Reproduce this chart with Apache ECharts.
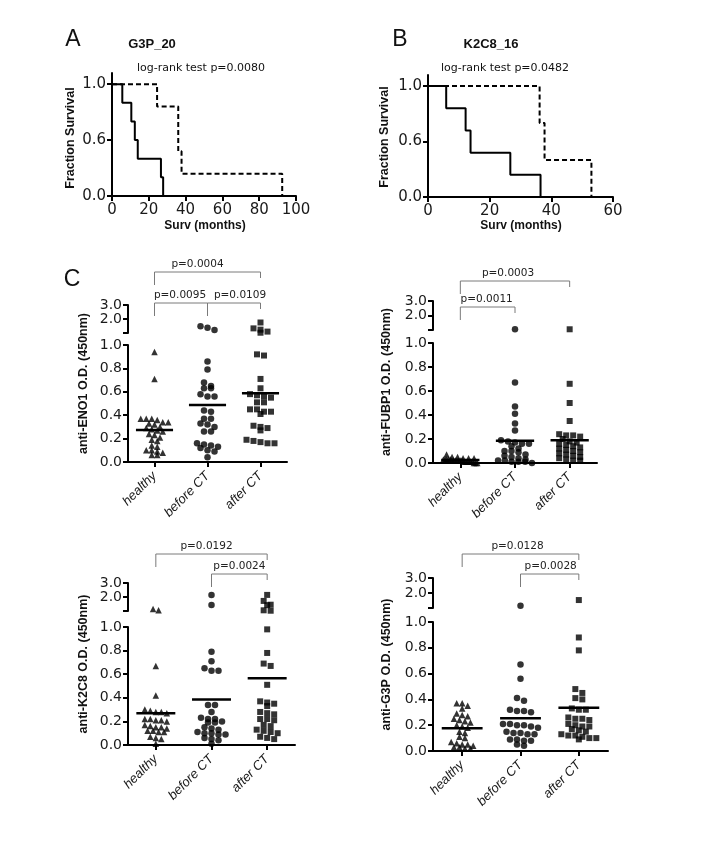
<!DOCTYPE html>
<html><head><meta charset="utf-8">
<script src="https://cdn.jsdelivr.net/npm/echarts@6/dist/echarts.min.js"></script>
<style>html,body{margin:0;padding:0;background:#fff}#c{width:708px;height:843px}</style>
</head><body><div id="c"></div>
<script>
// ---------------- DATA ----------------
const categories = ['healthy', 'before CT', 'after CT'];

// Kaplan-Meier (time in months, fraction surviving)
const kmA_solid_t = [0, 5.6, 10.5, 12.4, 14, 26.6, 27.8];
const kmA_solid_s = [1, 0.833, 0.667, 0.5, 0.333, 0.167, 0];
const kmA_dash_t = [0, 24.5, 36, 37.8, 92.5];
const kmA_dash_s = [1, 0.8, 0.4, 0.2, 0];
const kmB_solid_t = [0, 5.9, 12.2, 13.8, 26.7, 36.5];
const kmB_solid_s = [1, 0.8, 0.6, 0.4, 0.2, 0];
const kmB_dash_t = [0, 36.2, 37.8, 53];
const kmB_dash_s = [1, 0.667, 0.333, 0];
const kmYTickValues = [0, 0.5, 1];
const kmYTickLabels = ['0.0', '0.6', '1.0'];
const kmTitles = ['G3P_20', 'K2C8_16'];
const kmTests = ['log-rank test p=0.0080', 'log-rank test p=0.0482'];

// anti-ENO1
const eno1_healthy = [0.94, 0.71, 0.37, 0.37, 0.37, 0.36, 0.34, 0.34, 0.33, 0.32, 0.30, 0.29, 0.28, 0.27, 0.26, 0.24, 0.23, 0.21, 0.19, 0.18, 0.14, 0.13, 0.10, 0.10, 0.09, 0.08, 0.06, 0.06];
const eno1_before = [1.49, 1.38, 1.21, 0.86, 0.79, 0.68, 0.65, 0.63, 0.63, 0.58, 0.56, 0.56, 0.44, 0.43, 0.37, 0.37, 0.33, 0.32, 0.30, 0.26, 0.26, 0.16, 0.15, 0.14, 0.13, 0.12, 0.10, 0.09, 0.04];
const eno1_after = [1.75, 1.33, 1.24, 1.10, 1.02, 0.92, 0.91, 0.71, 0.63, 0.58, 0.57, 0.56, 0.55, 0.51, 0.51, 0.45, 0.45, 0.43, 0.43, 0.41, 0.31, 0.30, 0.29, 0.27, 0.19, 0.18, 0.17, 0.16, 0.16];
const eno1_means = [0.274, 0.487, 0.587];
const eno1_brackets = [[0, 2, 'p=0.0004'], [0, 1, 'p=0.0095'], [1, 2, 'p=0.0109']];

// anti-FUBP1
const fubp1_healthy = [0.07, 0.05, 0.05, 0.04, 0.04, 0.04, 0.03, 0.03, 0.03, 0.03, 0.03, 0.02, 0.02, 0.02, 0.02, 0.02, 0.02, 0.02, 0.01, 0.01, 0.01, 0.01, 0.01, 0.01, 0.0, 0.0, 0.0];
const fubp1_before = [1.05, 0.67, 0.47, 0.41, 0.33, 0.27, 0.19, 0.18, 0.17, 0.16, 0.16, 0.14, 0.12, 0.10, 0.10, 0.09, 0.07, 0.06, 0.05, 0.04, 0.03, 0.02, 0.02, 0.01, 0.01, 0.01, 0.0];
const fubp1_after = [1.05, 0.66, 0.50, 0.35, 0.24, 0.23, 0.23, 0.22, 0.20, 0.18, 0.17, 0.16, 0.15, 0.14, 0.13, 0.12, 0.11, 0.10, 0.09, 0.08, 0.07, 0.06, 0.05, 0.04, 0.03, 0.02, 0.02];
const fubp1_means = [0.025, 0.186, 0.19];
const fubp1_brackets = [[0, 2, 'p=0.0003'], [0, 1, 'p=0.0011']];

// anti-K2C8
const k2c8_healthy = [1.15, 1.05, 0.67, 0.42, 0.30, 0.29, 0.28, 0.28, 0.27, 0.22, 0.22, 0.21, 0.21, 0.20, 0.17, 0.16, 0.15, 0.15, 0.14, 0.12, 0.12, 0.11, 0.11, 0.07, 0.06, 0.05, 0.01];
const k2c8_before = [2.15, 1.43, 0.79, 0.71, 0.65, 0.63, 0.63, 0.34, 0.34, 0.28, 0.23, 0.22, 0.22, 0.20, 0.19, 0.19, 0.15, 0.14, 0.13, 0.11, 0.10, 0.10, 0.09, 0.09, 0.06, 0.05, 0.04, 0.01];
const k2c8_after = [2.15, 1.72, 1.45, 1.42, 1.05, 1.02, 0.98, 0.78, 0.69, 0.67, 0.51, 0.37, 0.36, 0.35, 0.33, 0.28, 0.27, 0.26, 0.22, 0.22, 0.21, 0.17, 0.16, 0.13, 0.12, 0.11, 0.10, 0.07, 0.06, 0.05];
const k2c8_means = [0.27, 0.385, 0.565];
const k2c8_brackets = [[0, 2, 'p=0.0192'], [1, 2, 'p=0.0024']];

// anti-G3P
const g3p_healthy = [0.37, 0.37, 0.35, 0.33, 0.29, 0.28, 0.27, 0.25, 0.24, 0.23, 0.22, 0.20, 0.19, 0.18, 0.15, 0.14, 0.11, 0.10, 0.07, 0.06, 0.05, 0.05, 0.04, 0.03, 0.03, 0.02, 0.02];
const g3p_before = [1.15, 0.67, 0.56, 0.41, 0.39, 0.32, 0.31, 0.31, 0.30, 0.21, 0.21, 0.20, 0.20, 0.19, 0.18, 0.15, 0.14, 0.14, 0.13, 0.13, 0.09, 0.09, 0.08, 0.08, 0.05, 0.04];
const g3p_after = [1.53, 0.88, 0.78, 0.48, 0.45, 0.41, 0.40, 0.33, 0.32, 0.32, 0.26, 0.25, 0.25, 0.24, 0.21, 0.20, 0.19, 0.19, 0.17, 0.16, 0.15, 0.13, 0.12, 0.12, 0.11, 0.10, 0.10, 0.09];
const g3p_means = [0.176, 0.253, 0.336];
const g3p_brackets = [[0, 2, 'p=0.0128'], [1, 2, 'p=0.0028']];

// ---------------- LAYOUT ----------------
const TICKF = 'DejaVu Sans';
const SANS = 'Liberation Sans';
const panels = [
  { name: 'anti-ENO1 O.D. (450nm)', groups: [eno1_healthy, eno1_before, eno1_after], means: eno1_means, brackets: eno1_brackets,
    up: { left: 128, top: 305, width: 159, height: 28 }, lo: { left: 128, top: 345, width: 159, height: 117 },
    labelX: 84, bracketY: [272, 303, 303], textDx: [-10, -1, 6] },
  { name: 'anti-FUBP1 O.D. (450nm)', groups: [fubp1_healthy, fubp1_before, fubp1_after], means: fubp1_means, brackets: fubp1_brackets,
    up: { left: 433, top: 301, width: 164, height: 29 }, lo: { left: 433, top: 343, width: 164, height: 120 },
    labelX: 387, bracketY: [281, 307], textDx: [-7, -1] },
  { name: 'anti-K2C8 O.D. (450nm)', groups: [k2c8_healthy, k2c8_before, k2c8_after], means: k2c8_means, brackets: k2c8_brackets,
    up: { left: 128, top: 583, width: 167, height: 28 }, lo: { left: 128, top: 627, width: 167, height: 118 },
    labelX: 84, bracketY: [554, 574], textDx: [-5, 0] },
  { name: 'anti-G3P O.D. (450nm)', groups: [g3p_healthy, g3p_before, g3p_after], means: g3p_means, brackets: g3p_brackets,
    up: { left: 433, top: 578, width: 175, height: 30 }, lo: { left: 433, top: 622, width: 175, height: 129 },
    labelX: 387, bracketY: [554, 574], textDx: [-3, 1] }
];
const symbols = ['triangle', 'circle', 'rect'];
const symSizes = [6.5, 6.5, 6];
const symSpacing = [5.5, 7, 7];

const axisLineS = { show: true, onZero: false, lineStyle: { color: '#000', width: 2 } };
const axisTickS = { show: true, length: 5, lineStyle: { color: '#000', width: 2 } };
const tickLabel = (sz) => ({ color: '#1a1a1a', fontFamily: TICKF, fontSize: sz, margin: 6 });

// column-scatter layout: rows of near-equal values spread horizontally
function swarm(vals, cat, pxPerUnit, bandPx, spacePx) {
  const s = vals.slice().sort((a, b) => b - a);
  const rows = []; let cur = null;
  const thr = 4 / pxPerUnit;
  s.forEach(v => { if (!cur || cur[0] - v > thr) { cur = [v]; rows.push(cur); } else cur.push(v); });
  const out = [];
  rows.forEach(r => {
    let sp = spacePx / bandPx; const maxW = 0.62;
    if ((r.length - 1) * sp > maxW) sp = maxW / (r.length - 1);
    r.forEach((v, i) => out.push([cat + (i - (r.length - 1) / 2) * sp, v]));
  });
  return out;
}

const grid = [
  { left: 112, top: 73, width: 184, height: 123 },
  { left: 428, top: 75, width: 185, height: 122 }
];
const xAxis = [
  { gridIndex: 0, type: 'value', min: 0, max: 100, interval: 20, axisLine: axisLineS, axisTick: axisTickS, axisLabel: Object.assign(tickLabel(15), { margin: 7 }), splitLine: { show: false } },
  { gridIndex: 1, type: 'value', min: 0, max: 60, interval: 20, axisLine: axisLineS, axisTick: axisTickS, axisLabel: Object.assign(tickLabel(15), { margin: 7 }), splitLine: { show: false } }
];
const kmYAxis = (gi) => ({
  gridIndex: gi, type: 'value', min: 0, max: 1.1, axisLine: axisLineS,
  axisTick: Object.assign({}, axisTickS, { customValues: kmYTickValues }),
  axisLabel: Object.assign(tickLabel(15), { customValues: kmYTickValues, formatter: v => kmYTickLabels[kmYTickValues.indexOf(+v)] ?? '' }),
  splitLine: { show: false }
});
const yAxis = [kmYAxis(0), kmYAxis(1)];
const series = [
  { type: 'line', xAxisIndex: 0, yAxisIndex: 0, step: 'end', showSymbol: false, data: kmA_dash_t.map((t, i) => [t, kmA_dash_s[i]]), lineStyle: { color: '#000', width: 2, type: [5, 3] }, silent: true, clip: false },
  { type: 'line', xAxisIndex: 0, yAxisIndex: 0, step: 'end', showSymbol: false, data: kmA_solid_t.map((t, i) => [t, kmA_solid_s[i]]), lineStyle: { color: '#000', width: 2 }, silent: true, clip: false },
  { type: 'line', xAxisIndex: 1, yAxisIndex: 1, step: 'end', showSymbol: false, data: kmB_dash_t.map((t, i) => [t, kmB_dash_s[i]]), lineStyle: { color: '#000', width: 2, type: [5, 3] }, silent: true, clip: false },
  { type: 'line', xAxisIndex: 1, yAxisIndex: 1, step: 'end', showSymbol: false, data: kmB_solid_t.map((t, i) => [t, kmB_solid_s[i]]), lineStyle: { color: '#000', width: 2 }, silent: true, clip: false }
];

panels.forEach((p, pi) => {
  const gUp = 2 + 2 * pi, gLo = 3 + 2 * pi;
  const xUp = 2 + 3 * pi, xCat = 3 + 3 * pi, xLo = 4 + 3 * pi;
  p.xLo = xLo;
  grid.push(p.up, p.lo);
  xAxis.push(
    { gridIndex: gUp, type: 'value', min: -0.5, max: 2.5, show: false },
    { gridIndex: gLo, type: 'category', data: categories, boundaryGap: true, axisLine: axisLineS,
      axisTick: Object.assign({}, axisTickS, { alignWithLabel: true }),
      axisLabel: { rotate: 45, interval: 0, fontStyle: 'italic', fontFamily: SANS, fontSize: 13, color: '#1a1a1a', margin: 12 } },
    { gridIndex: gLo, type: 'value', min: -0.5, max: 2.5, show: false }
  );
  yAxis.push(
    { gridIndex: gUp, type: 'value', min: 1, max: 3, interval: 1, axisLine: axisLineS, axisTick: axisTickS,
      axisLabel: Object.assign(tickLabel(14), { formatter: v => (v === 1 ? '' : v.toFixed(1)) }), splitLine: { show: false } },
    { gridIndex: gLo, type: 'value', min: 0, max: 1, interval: 0.2, axisLine: axisLineS, axisTick: axisTickS,
      axisLabel: Object.assign(tickLabel(14), { formatter: v => v.toFixed(1) }), splitLine: { show: false } }
  );
  const bandLo = p.lo.width / 3, bandUp = p.up.width / 3;
  p.groups.forEach((vals, ci) => {
    const hi = vals.filter(v => v > 1), lo = vals.filter(v => v <= 1);
    const common = { type: 'scatter', symbol: symbols[ci], symbolSize: symSizes[ci], itemStyle: { color: '#000' }, silent: true, clip: false };
    if (hi.length) series.push(Object.assign({}, common, { xAxisIndex: xUp, yAxisIndex: gUp, data: swarm(hi, ci, p.up.height / 2, bandUp, symSpacing[ci]) }));
    series.push(Object.assign({}, common, { xAxisIndex: xLo, yAxisIndex: gLo, data: swarm(lo, ci, p.lo.height, bandLo, symSpacing[ci]) }));
  });
  series.push({
    type: 'custom', xAxisIndex: xLo, yAxisIndex: gLo, silent: true, clip: false,
    data: p.means.map((m, i) => [i, m]),
    renderItem: (params, api) => {
      const c = api.value(0), m = api.value(1);
      const a = api.coord([c - 0.35, m]), b = api.coord([c + 0.35, m]);
      return { type: 'line', shape: { x1: a[0], y1: a[1], x2: b[0], y2: b[1] }, style: { stroke: '#000', lineWidth: 2.5 } };
    }
  });
});

const chart = echarts.init(document.getElementById('c'), null, { renderer: 'canvas' });
chart.setOption({ animation: false, backgroundColor: '#fff', grid, xAxis, yAxis, series });

// ---------------- ANNOTATIONS ----------------
function txt(text, x, y, font, opts) {
  return Object.assign({ type: 'text', x, y, silent: true,
    style: { text, x: 0, y: 0, font, fill: '#111', align: 'center', verticalAlign: 'middle', textAlign: 'center', textVerticalAlign: 'middle' } }, opts || {});
}
const graphic = [
  txt('A', 73, 40, '23px ' + SANS),
  txt('B', 400, 40, '23px ' + SANS),
  txt('C', 72, 280, '23px ' + SANS),
  txt(kmTitles[0], 152, 44, 'bold 13px ' + SANS),
  txt(kmTitles[1], 491, 44, 'bold 13px ' + SANS),
  txt(kmTests[0], 201, 68, '11px ' + TICKF),
  txt(kmTests[1], 505, 68, '11px ' + TICKF),
  txt('Fraction Survival', 71, 138, 'bold 12.5px ' + SANS, { rotation: Math.PI / 2 }),
  txt('Fraction Survival', 385, 137, 'bold 12.5px ' + SANS, { rotation: Math.PI / 2 }),
  txt('Surv (months)', 205, 226, 'bold 12px ' + SANS),
  txt('Surv (months)', 521, 226, 'bold 12px ' + SANS)
];
panels.forEach(p => {
  graphic.push(txt(p.name, p.labelX, (p.up.top + p.lo.top + p.lo.height) / 2, 'bold 12.5px ' + SANS, { rotation: Math.PI / 2 }));
  p.brackets.forEach((b, bi) => {
    const x1 = chart.convertToPixel({ xAxisIndex: p.xLo }, b[0]);
    const x2 = chart.convertToPixel({ xAxisIndex: p.xLo }, b[1]);
    const y = p.bracketY[bi];
    graphic.push({ type: 'polyline', silent: true, shape: { points: [[x1, y + 13], [x1, y], [x2, y], [x2, y + 6]] }, style: { stroke: '#7a7a7a', lineWidth: 1, fill: null } });
    graphic.push({ type: 'text', silent: true, x: (x1 + x2) / 2 + p.textDx[bi], y: y - 2,
      style: { text: b[2], x: 0, y: 0, font: '10.5px ' + TICKF, fill: '#222', align: 'center', verticalAlign: 'bottom', textAlign: 'center', textVerticalAlign: 'bottom' } });
  });
});
chart.setOption({ graphic });
</script>
</body></html>
